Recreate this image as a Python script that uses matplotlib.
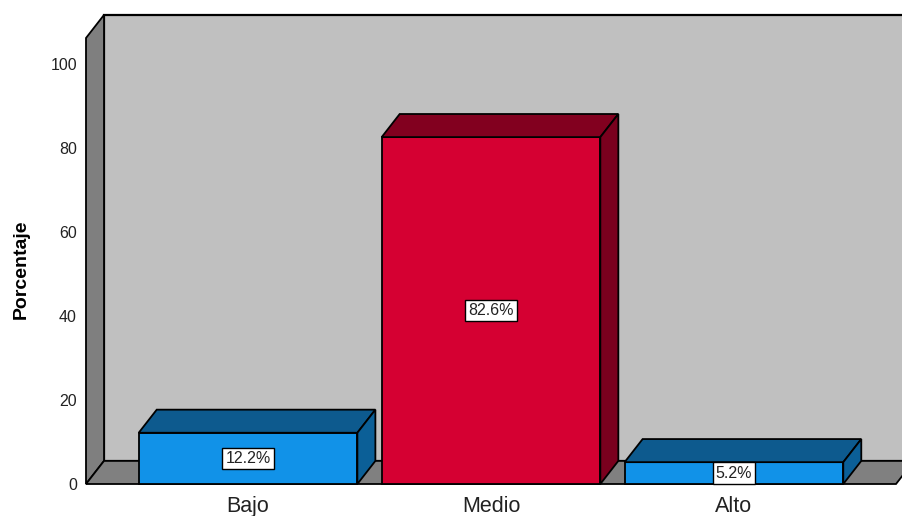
import matplotlib
matplotlib.use("Agg")
import matplotlib.pyplot as plt
from matplotlib.patches import Polygon

plt.rcParams['font.family'] = ['Liberation Sans', 'DejaVu Sans']

# Data
categories = ["Bajo", "Medio", "Alto"]
percentages = [12.2, 82.6, 5.2]
value_labels = ["12.2%", "82.6%", "5.2%"]
y_ticks = [0, 20, 40, 60, 80, 100]

# Styling
front_colors = ["#1192E8", "#D50032", "#1192E8"]
top_colors = ["#0D5A8E", "#82001F", "#0D5A8E"]
side_colors = ["#0B5F97", "#7A001E", "#0B5F97"]
wall_color = "#C0C0C0"
side_wall_color = "#7F7F7F"
floor_color = "#808080"

fig = plt.figure(figsize=(9.03, 5.16), dpi=100)
ax = fig.add_axes([86 / 903, 32 / 516, 810 / 903, 446 / 516])

xmin, xmax = -0.667, 2.667
ymax = 106.2
ax.set_xlim(xmin, xmax)
ax.set_ylim(0, ymax)

# depth offset of the 3D box (in data units)
ddx, ddy = 0.0741, 5.5
bar_w = 0.9

edge = dict(edgecolor="black", linewidth=1.3, clip_on=False)

# back wall
ax.add_patch(Polygon([(xmin + ddx, ddy), (xmax + ddx, ddy), (xmax + ddx, ymax + ddy),
                      (xmin + ddx, ymax + ddy)], facecolor=wall_color, zorder=1,
                     edgecolor="black", linewidth=1.6, clip_on=False))
# left wall
ax.add_patch(Polygon([(xmin, 0), (xmin, ymax), (xmin + ddx, ymax + ddy), (xmin + ddx, ddy)],
                     facecolor=side_wall_color, zorder=2, **edge))
# floor
ax.add_patch(Polygon([(xmin, 0), (xmax, 0), (xmax + ddx, ddy), (xmin + ddx, ddy)],
                     facecolor=floor_color, zorder=2, **edge))

# bars
for i, (v, lab) in enumerate(zip(percentages, value_labels)):
    x0, x1 = i - bar_w / 2, i + bar_w / 2
    ax.add_patch(Polygon([(x0, 0), (x1, 0), (x1, v), (x0, v)],
                         facecolor=front_colors[i], zorder=4, **edge))
    ax.add_patch(Polygon([(x0, v), (x1, v), (x1 + ddx, v + ddy), (x0 + ddx, v + ddy)],
                         facecolor=top_colors[i], zorder=4, **edge))
    ax.add_patch(Polygon([(x1, 0), (x1, v), (x1 + ddx, v + ddy), (x1 + ddx, ddy)],
                         facecolor=side_colors[i], zorder=4, **edge))
    ax.text(i, v / 2, lab, ha="center", va="center", fontsize=11.5, color="#222222", zorder=6,
            bbox=dict(boxstyle="square,pad=0.2", facecolor="white", edgecolor="black",
                      linewidth=1.0))

# axes
for s in ax.spines.values():
    s.set_visible(False)
ax.set_yticks(y_ticks)
ax.set_yticklabels([str(t) for t in y_ticks])
ax.set_xticks(range(len(categories)))
ax.set_xticklabels(categories)
ax.tick_params(axis="y", length=0, pad=6.5, labelsize=11.5, labelcolor="#222222")
ax.tick_params(axis="x", length=0, pad=8.5, labelsize=15.5, labelcolor="#222222")
ax.set_facecolor("none")

fig.text(21 / 903, 1 - 269 / 516, "Porcentaje", rotation=90, ha="center", va="center",
         fontsize=14, fontweight="bold", color="black")

fig.savefig("out.png", dpi=100)
